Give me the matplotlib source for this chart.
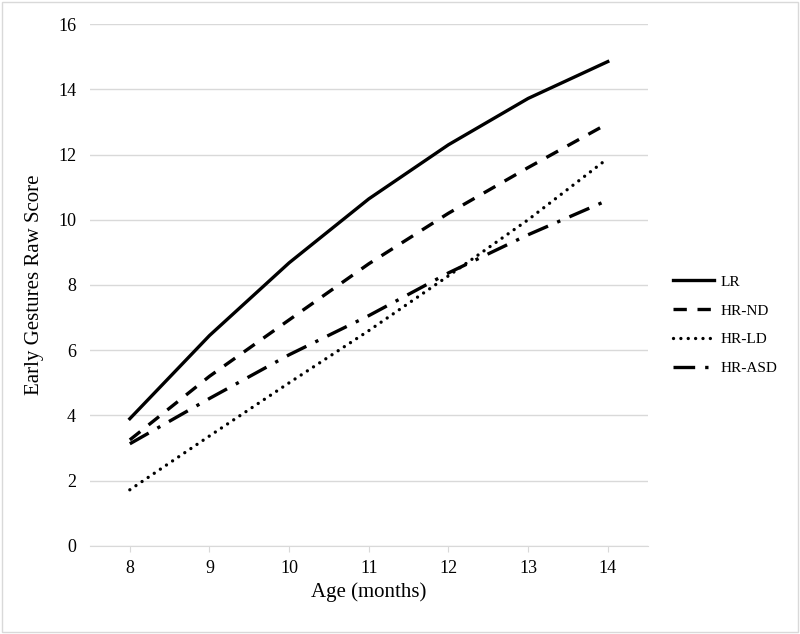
import numpy as np
import matplotlib.pyplot as plt

plt.rcParams['font.family'] = ['Liberation Serif', 'DejaVu Serif']

# Возраст (месяцы) и средние баллы по группам
ages = [8, 9, 10, 11, 12, 13, 14]
lr = [3.9, 6.45, 8.68, 10.64, 12.3, 13.72, 14.85]
hr_nd = [3.25, 5.2, 6.93, 8.65, 10.2, 11.6, 12.95]
hr_ld = [1.72, 3.37, 5.0, 6.6, 8.28, 10.0, 11.88]
hr_asd = [3.13, 4.52, 5.86, 7.06, 8.37, 9.54, 10.6]

series = [
    ('LR', lr, '-', 'butt'),
    ('HR-ND', hr_nd, (0, (4, 3.2)), 'butt'),
    ('HR-LD', hr_ld, (0, (0.01, 2.2)), 'round'),
    ('HR-ASD', hr_asd, (0, (6.5, 3.0, 1.0, 3.0)), 'butt'),
]

fig = plt.figure(figsize=(8, 6.34), dpi=100)
ax = fig.add_axes([0.1125, 0.139, 0.697, 0.823])

for name, vals, ls, cap in series:
    ax.plot(ages, vals, color='black', linewidth=2.4, linestyle=ls,
            label=name, dash_capstyle=cap)

ax.set_xlim(7.5, 14.5)
ax.set_ylim(0, 16)
ax.set_yticks(range(0, 17, 2))
ax.set_xticks(ages)
ax.grid(axis='y', color='#d9d9d9', linewidth=1)
ax.set_axisbelow(True)
for s in ['top', 'right', 'left']:
    ax.spines[s].set_visible(False)
ax.spines['bottom'].set_color('#d9d9d9')
ax.tick_params(axis='y', length=0, labelsize=13, pad=10)
ax.tick_params(axis='x', length=4, color='#d9d9d9', labelsize=13, pad=6)

ax.set_xlabel('Age (months)', fontsize=15, labelpad=4)
ax.set_ylabel('Early Gestures Raw Score', fontsize=15, labelpad=10)

ax.legend(loc='center left', bbox_to_anchor=(1.02, 0.423), frameon=False,
          fontsize=11, handlelength=2.7, labelspacing=1.0, handletextpad=0.45)

fig.patches.append(plt.Rectangle((0.002, 0.003), 0.996, 0.994, transform=fig.transFigure,
                                 fill=False, edgecolor='#d9d9d9', linewidth=1))

plt.savefig('out.png', dpi=100)
